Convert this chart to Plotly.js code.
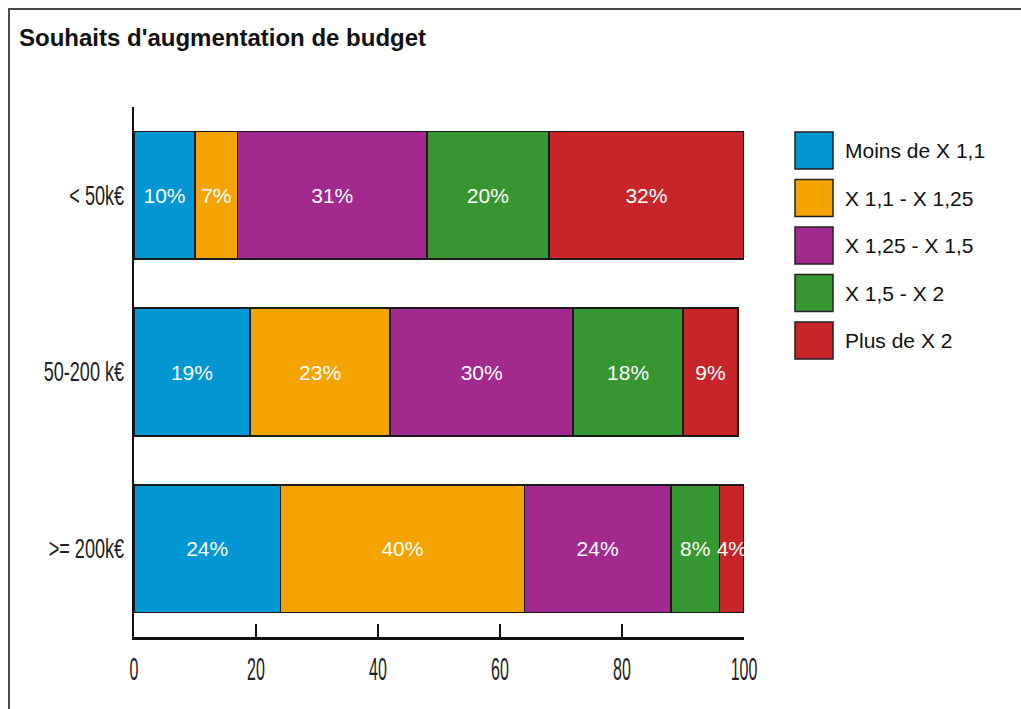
<!DOCTYPE html>
<html>
<head>
<meta charset="utf-8">
<script src="https://cdn.plot.ly/plotly-3.0.1.min.js"></script>
<style>
html,body{margin:0;padding:0;background:#fff;}
#wrap{position:relative;width:1021px;height:709px;}
#chart{width:1021px;height:709px;}
#frame{position:absolute;left:8px;top:8px;right:0;bottom:0;border-top:2px solid #4a4a4a;border-left:2px solid #4a4a4a;pointer-events:none;}
</style>
</head>
<body>
<div id="wrap"><div id="chart"></div><div id="frame"></div></div>
<script>
// ---- data ----
const categories = ["< 50k€", "50-200 k€", ">= 200k€"];
const seriesNames = ["Moins de X 1,1", "X 1,1 - X 1,25", "X 1,25 - X 1,5", "X 1,5 - X 2", "Plus de X 2"];
const moinsDe11 = [10, 19, 24];
const x11to125 = [7, 23, 40];
const x125to15 = [31, 30, 24];
const x15to2 = [20, 18, 8];
const plusDe2 = [32, 9, 4];
const xTickVals = [0, 20, 40, 60, 80, 100];
const chartTitle = "Souhaits d'augmentation de budget";

// ---- styles ----
const seriesValues = [moinsDe11, x11to125, x125to15, x15to2, plusDe2];
const colors = ["#0096d2", "#f4a300", "#a22a8f", "#36962f", "#c8252a"];
const regular = "'Liberation Sans', Arial, sans-serif";

const W = 1021, H = 709;
const M = {l: 134, r: 277, t: 107, b: 72};
const PW = W - M.l - M.r, PH = H - M.t - M.b;
const pxX = px => (px - M.l) / PW;
const pxY = py => (H - M.b - py) / PH;

const traces = seriesValues.map((vals, i) => ({
  type: "bar",
  orientation: "h",
  name: seriesNames[i],
  y: categories,
  x: vals,
  marker: {color: colors[i], line: {color: "#1a1a1a", width: 1.5}},
  text: vals.map(v => v + "%"),
  textposition: "inside",
  insidetextanchor: "middle",
  textangle: 0,
  constraintext: "none",
  textfont: {family: regular, size: 21, color: "#ffffff"},
  hoverinfo: "none",
  showlegend: false
}));

// custom legend (large square swatches)
const shapes = [];
const annotations = [];
seriesNames.forEach((n, i) => {
  const top = 132 + i * 47.5;
  shapes.push({
    type: "rect", xref: "paper", yref: "paper",
    x0: pxX(795), x1: pxX(833), y0: pxY(top + 37), y1: pxY(top),
    fillcolor: colors[i], line: {color: "#222", width: 1.5}
  });
  annotations.push({
    xref: "paper", yref: "paper", x: pxX(843), y: pxY(top + 18.5),
    xanchor: "left", yanchor: "middle", showarrow: false,
    text: n, font: {family: regular, size: 21, color: "#111"}
  });
});

const layout = {
  width: W, height: H,
  margin: M,
  paper_bgcolor: "#fff", plot_bgcolor: "#fff",
  barmode: "stack",
  bargap: 0.277,
  title: {
    text: "<b>" + chartTitle + "</b>",
    xref: "container", yref: "container",
    x: 19 / W, xanchor: "left", y: 1 - 38 / H, yanchor: "middle",
    font: {family: regular, size: 24, color: "#111"}
  },
  xaxis: {
    range: [0, 100], tickvals: xTickVals, ticktext: xTickVals.map(String),
    showgrid: false, zeroline: false,
    showline: true, linecolor: "#111", linewidth: 2.5,
    ticks: "inside", ticklen: 13, tickwidth: 2, tickcolor: "#111",
    ticklabelstandoff: 2,
    tickfont: {family: regular, size: 32, color: "#222"},
    fixedrange: true
  },
  yaxis: {
    type: "category", range: [2.5, -0.5],
    showgrid: false, zeroline: false,
    showline: true, linecolor: "#111", linewidth: 2.5,
    ticks: "", ticklabelstandoff: 2,
    tickfont: {family: regular, size: 27, color: "#222"},
    fixedrange: true
  },
  shapes: shapes,
  annotations: annotations,
  showlegend: false
};

// the reference uses a very condensed face for axis labels:
// scale each label horizontally about its anchor point (right edge or centre)
function squeeze(selector, factor, anchor) {
  document.querySelectorAll(selector).forEach(t => {
    const b = t.getBBox();
    const ax = anchor === "end" ? b.x + b.width : b.x + b.width / 2;
    const ay = b.y + b.height / 2;
    const prev = t.getAttribute("transform") || "";
    t.setAttribute("transform",
      prev + " translate(" + ax + "," + ay + ") scale(" + factor + ",1) translate(" + (-ax) + "," + (-ay) + ")");
  });
}

Plotly.newPlot("chart", traces, layout, {displayModeBar: false, staticPlot: true}).then(() => {
  squeeze("#chart .xtick text", 0.5, "middle");
  squeeze("#chart .ytick text", 0.67, "end");
});
</script>
</body>
</html>
